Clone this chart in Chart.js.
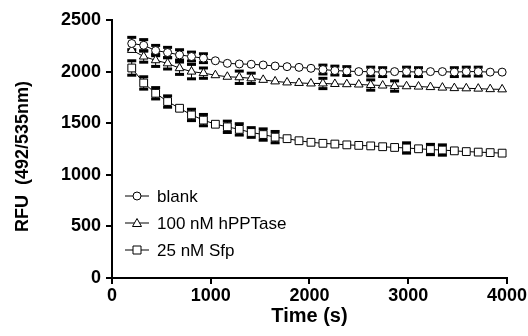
<!DOCTYPE html>
<html>
<head>
<meta charset="utf-8">
<script src="https://cdn.jsdelivr.net/npm/chart.js@4/dist/chart.umd.min.js"></script>
<style>
  html, body { margin: 0; padding: 0; background: #fff; }
  #wrap { width: 528px; height: 336px; }
</style>
</head>
<body>
<div id="wrap"><canvas id="c" width="528" height="336"></canvas></div>
<script>
// ---- Data ----
const times = [200, 321, 442, 563, 684, 805, 926, 1047, 1168, 1289, 1410, 1531, 1652, 1773, 1894, 2015,
               2136, 2257, 2378, 2499, 2620, 2741, 2862, 2983, 3104, 3225, 3346, 3467, 3588, 3709, 3830, 3951];
const seriesLabels = ["blank", "100 nM hPPTase", "25 nM Sfp"];
const blank = [2272, 2255, 2204, 2185, 2162, 2146, 2130, 2105, 2080, 2074, 2071, 2064, 2054, 2048, 2041, 2032,
               2020, 2010, 2005, 2000, 2000, 1995, 2000, 2000, 1995, 2000, 2000, 1995, 2000, 2000, 1995, 1995];
const blankErr = [55, 50, 45, 45, 45, 38, 38, 0, 0, 0, 0, 0, 0, 0, 0, 0,
                  38, 38, 38, 0, 38, 38, 0, 38, 38, 0, 0, 38, 38, 38, 0, 0];
const hpptase = [2210, 2146, 2110, 2080, 2033, 2000, 1985, 1965, 1950, 1945, 1935, 1920, 1905, 1895, 1890, 1885,
                 1885, 1880, 1878, 1875, 1870, 1865, 1860, 1858, 1855, 1850, 1845, 1840, 1838, 1835, 1830, 1828];
const hpptaseErr = [0, 50, 55, 50, 55, 65, 45, 0, 0, 55, 45, 0, 0, 0, 0, 0,
                    45, 0, 0, 0, 45, 0, 45, 0, 0, 0, 0, 0, 0, 0, 0, 0];
const sfp = [2035, 1890, 1790, 1710, 1645, 1580, 1530, 1490, 1465, 1440, 1410, 1390, 1365, 1350, 1330, 1315,
             1305, 1298, 1290, 1285, 1280, 1272, 1265, 1260, 1252, 1245, 1240, 1232, 1225, 1220, 1215, 1210];
const sfpErr = [65, 55, 50, 50, 0, 50, 50, 0, 50, 50, 42, 50, 50, 0, 0, 0,
                0, 0, 0, 0, 0, 0, 0, 45, 0, 45, 45, 0, 0, 0, 0, 0];
const xTicks = [0, 1000, 2000, 3000, 4000];
const yTicks = [0, 500, 1000, 1500, 2000, 2500];

const FONT = '"Liberation Sans", Arial, Helvetica, sans-serif';

function pts(vals) { return times.map((t, i) => ({ x: t, y: vals[i] })); }

const errorSets = [blankErr, hpptaseErr, sfpErr];

const errorBarPlugin = {
  id: 'errorBars',
  beforeDatasetsDraw(chart) {
    const ctx = chart.ctx;
    const xs = chart.scales.x, ys = chart.scales.y;
    ctx.save();
    ctx.fillStyle = '#000';
    ctx.strokeStyle = '#000';
    chart.data.datasets.forEach((ds, di) => {
      const errs = errorSets[di];
      ds.data.forEach((p, i) => {
        const e = errs[i];
        if (!e) return;
        const px = xs.getPixelForValue(p.x);
        const yt = ys.getPixelForValue(p.y + e);
        const yb = ys.getPixelForValue(p.y - e);
        ctx.lineWidth = 1;
        ctx.beginPath();
        ctx.moveTo(px, yt);
        ctx.lineTo(px, yb);
        ctx.stroke();
        ctx.fillRect(px - 4.5, yt - 2, 9, 3);
        ctx.fillRect(px - 4.5, yb - 1, 9, 3);
      });
    });
    ctx.restore();
  }
};

function drawMarker(ctx, style, x, y) {
  ctx.beginPath();
  if (style === 'circle') {
    ctx.arc(x, y, 4, 0, Math.PI * 2);
  } else if (style === 'triangle') {
    ctx.moveTo(x, y - 4.5);
    ctx.lineTo(x + 4.5, y + 3.5);
    ctx.lineTo(x - 4.5, y + 3.5);
    ctx.closePath();
  } else {
    ctx.rect(x - 4, y - 4, 8, 8);
  }
  ctx.fillStyle = '#fff';
  ctx.fill();
  ctx.stroke();
}

const legendPlugin = {
  id: 'customLegend',
  afterDraw(chart) {
    const ctx = chart.ctx;
    const rows = [196, 223, 250];
    ctx.save();
    ctx.strokeStyle = '#000';
    ctx.lineWidth = 1;
    ctx.font = '17px ' + FONT;
    ctx.textBaseline = 'middle';
    ctx.textAlign = 'left';
    chart.data.datasets.forEach((ds, i) => {
      const y = rows[i];
      ctx.beginPath();
      ctx.moveTo(125, y);
      ctx.lineTo(149, y);
      ctx.stroke();
      drawMarker(ctx, ds.pointStyle, 137, y);
      ctx.fillStyle = '#000';
      ctx.fillText(ds.label, 157, y + 1);
    });
    ctx.restore();
  }
};

const common = {
  borderColor: '#000',
  borderWidth: 1,
  pointBackgroundColor: '#fff',
  pointBorderColor: '#000',
  pointBorderWidth: 1,
  fill: false,
  tension: 0
};

new Chart(document.getElementById('c'), {
  type: 'line',
  data: {
    datasets: [
      Object.assign({ label: seriesLabels[0], data: pts(blank), pointStyle: 'circle', pointRadius: 4 }, common),
      Object.assign({ label: seriesLabels[1], data: pts(hpptase), pointStyle: 'triangle', pointRadius: 5 }, common),
      Object.assign({ label: seriesLabels[2], data: pts(sfp), pointStyle: 'rect', pointRadius: 5.5 }, common)
    ]
  },
  options: {
    responsive: false,
    animation: false,
    layout: { padding: { top: 20, right: 20, left: 0, bottom: 0 } },
    plugins: { legend: { display: false }, tooltip: { enabled: false } },
    scales: {
      x: {
        type: 'linear',
        min: 0, max: 4000,
        afterBuildTicks(scale) { scale.ticks = xTicks.map(v => ({ value: v })); },
        afterFit(scale) { scale.height = 58; },
        grid: { display: true, drawOnChartArea: false, drawTicks: true, tickLength: 6, color: '#000', lineWidth: 2 },
        border: { display: true, color: '#000', width: 2 },
        ticks: { color: '#000', font: { family: FONT, size: 18, weight: 'bold' }, padding: 1, maxRotation: 0,
                 callback: v => String(v) },
        title: { display: true, text: 'Time (s)', color: '#000', font: { family: FONT, size: 20, weight: 'bold' }, padding: { top: 0, bottom: 8 } }
      },
      y: {
        type: 'linear',
        min: 0, max: 2500,
        afterBuildTicks(scale) { scale.ticks = yTicks.map(v => ({ value: v })); },
        afterFit(scale) { scale.width = 112; },
        grid: { display: true, drawOnChartArea: false, drawTicks: true, tickLength: 6, color: '#000', lineWidth: 2 },
        border: { display: true, color: '#000', width: 2 },
        ticks: { color: '#000', font: { family: FONT, size: 18, weight: 'bold' }, padding: 5,
                 callback: v => String(v) },
        title: { display: true, text: 'RFU  (492/535nm)   ', color: '#000', font: { family: FONT, size: 18, weight: 'bold' }, padding: { top: 12, bottom: 0 } }
      }
    }
  },
  plugins: [errorBarPlugin, legendPlugin]
});
</script>
</body>
</html>
